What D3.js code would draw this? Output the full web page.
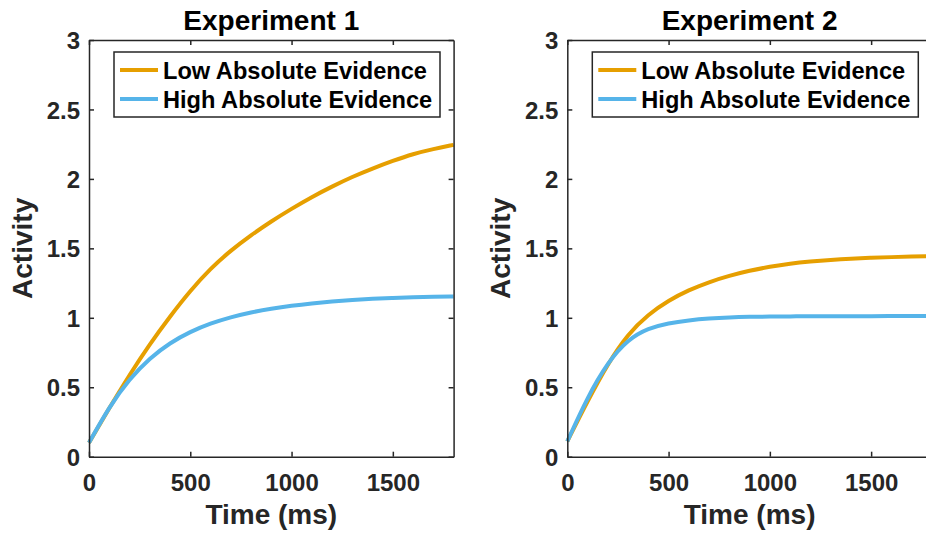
<!DOCTYPE html>
<html>
<head>
<meta charset="utf-8">
<script src="https://cdn.jsdelivr.net/npm/d3@7"></script>
<style>
  body { margin: 0; background: #fff; overflow: hidden; }
  svg { font-family: "Liberation Sans", Arial, Helvetica, sans-serif; font-weight: bold; }
  .axis path, .axis line { stroke: #262626; stroke-width: 1.5; }
  .axis text { fill: #262626; font-size: 24px; font-weight: bold; font-family: "Liberation Sans", Arial, sans-serif; }
</style>
</head>
<body>
<svg id="chart" width="926" height="537"></svg>
<script>
const times = [0, 100, 200, 300, 400, 500, 600, 700, 800, 900, 1000, 1100, 1200, 1300, 1400, 1500, 1600, 1700, 1800];

const lowExp1  = [0.10, 0.35, 0.59, 0.81, 1.01, 1.195, 1.355, 1.485, 1.595, 1.695, 1.785, 1.87, 1.945, 2.015, 2.075, 2.13, 2.18, 2.215, 2.245];
const highExp1 = [0.10, 0.36, 0.56, 0.71, 0.82, 0.90, 0.96, 1.005, 1.04, 1.066, 1.087, 1.104, 1.118, 1.129, 1.137, 1.143, 1.148, 1.151, 1.153];
const lowExp2  = [0.11, 0.40, 0.67, 0.885, 1.025, 1.125, 1.20, 1.258, 1.303, 1.34, 1.368, 1.39, 1.405, 1.417, 1.426, 1.432, 1.437, 1.441, 1.444];
const highExp2 = [0.11, 0.43, 0.68, 0.845, 0.925, 0.962, 0.982, 0.995, 1.003, 1.007, 1.009, 1.010, 1.011, 1.011, 1.012, 1.012, 1.012, 1.013, 1.013];

const seriesNames = ["Low Absolute Evidence", "High Absolute Evidence"];
const seriesColors = ["#E69F00", "#56B4E9"];
const panelTitles = ["Experiment 1", "Experiment 2"];
const xTicks = [0, 500, 1000, 1500];
const yTicks = [0, 0.5, 1, 1.5, 2, 2.5, 3];

const svg = d3.select("#chart");

const plotTop = 40, plotBottom = 456.7, plotW = 364.6;
const panelLeft = [89, 567.3];

const y = d3.scaleLinear().domain([0, 3]).range([plotBottom, plotTop]);

const panels = [
    {title: panelTitles[0], series: [lowExp1, highExp1]},
    {title: panelTitles[1], series: [lowExp2, highExp2]}
];

panels.forEach((p, i) => drawPanel(p, panelLeft[i]));

function drawPanel(p, left) {
    const x = d3.scaleLinear().domain([0, 1800]).range([left, left + plotW]);
    const g = svg.append("g");

    // lines
    const line = d3.line()
        .x((d, j) => x(times[j]))
        .y(d => y(d))
        .curve(d3.curveBasis);

    p.series.forEach((s, k) => {
        g.append("path")
            .datum(s)
            .attr("fill", "none")
            .attr("stroke", seriesColors[k])
            .attr("stroke-width", 4)
            .attr("d", line);
    });

    // box axes
    g.append("g").attr("class", "axis")
        .attr("transform", `translate(0,${plotBottom})`)
        .call(d3.axisBottom(x).tickValues(xTicks).tickSizeInner(-5).tickSizeOuter(0).tickPadding(17)
            .tickFormat(d3.format("d")))
        .selectAll("text").attr("dy", "0.71em");

    g.append("g").attr("class", "axis")
        .attr("transform", `translate(0,${plotTop})`)
        .call(d3.axisTop(x).tickValues(xTicks).tickSizeInner(-5).tickSizeOuter(0).tickFormat(""));

    g.append("g").attr("class", "axis")
        .attr("transform", `translate(${left},0)`)
        .call(d3.axisLeft(y).tickValues(yTicks).tickSizeInner(-5).tickSizeOuter(0).tickPadding(9)
            .tickFormat(d3.format("~g")))
        .selectAll("text").attr("dy", "0.36em");

    g.append("g").attr("class", "axis")
        .attr("transform", `translate(${left + plotW},0)`)
        .call(d3.axisRight(y).tickValues(yTicks).tickSizeInner(-5).tickSizeOuter(0).tickFormat(""));

    // title + labels
    g.append("text")
        .attr("x", left + plotW / 2)
        .attr("y", 30)
        .attr("text-anchor", "middle")
        .attr("font-size", 28)
        .attr("fill", "#000")
        .text(p.title);

    g.append("text")
        .attr("x", left + plotW / 2)
        .attr("y", 524)
        .attr("text-anchor", "middle")
        .attr("font-size", 28)
        .attr("fill", "#262626")
        .text("Time (ms)");

    g.append("text")
        .attr("transform", `translate(${left - 57},${(plotTop + plotBottom) / 2}) rotate(-90)`)
        .attr("text-anchor", "middle")
        .attr("font-size", 28)
        .attr("fill", "#262626")
        .text("Activity");

    // legend
    const lg = g.append("g").attr("transform", `translate(${left + 25},52)`);
    lg.append("rect")
        .attr("width", 326)
        .attr("height", 65)
        .attr("fill", "#fff")
        .attr("stroke", "#262626")
        .attr("stroke-width", 1.5);

    seriesNames.forEach((name, k) => {
        const ry = 18 + k * 29;
        lg.append("line")
            .attr("x1", 6).attr("x2", 44)
            .attr("y1", ry).attr("y2", ry)
            .attr("stroke", seriesColors[k])
            .attr("stroke-width", 4);
        lg.append("text")
            .attr("x", 49)
            .attr("y", ry + 8.5)
            .attr("font-size", 23.6)
            .attr("fill", "#000")
            .text(name);
    });
}
</script>
</body>
</html>
